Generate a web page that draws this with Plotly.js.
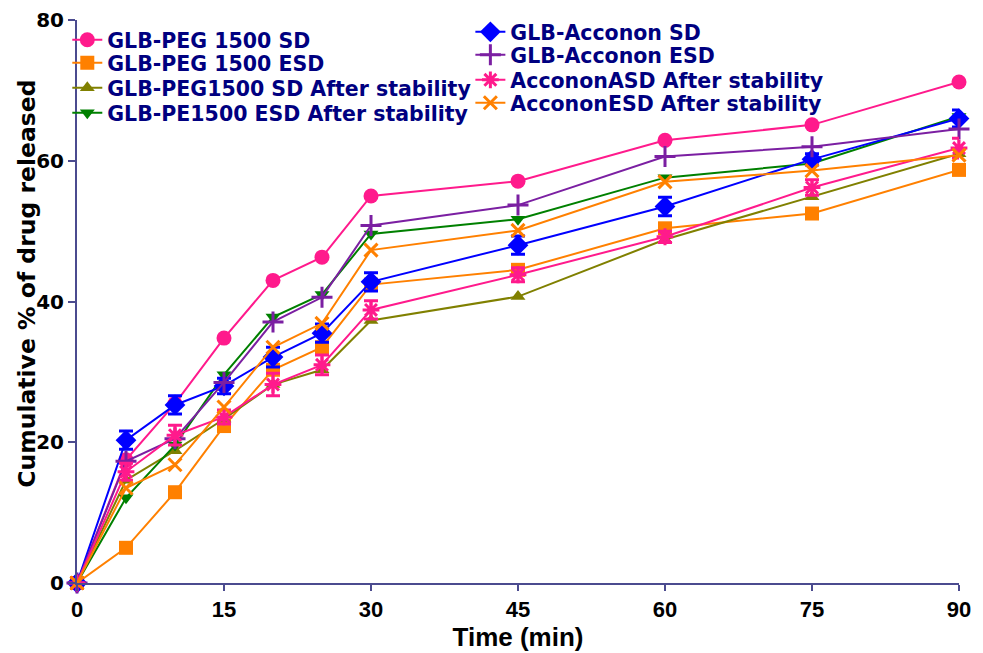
<!DOCTYPE html>
<html>
<head>
<meta charset="utf-8">
<script src="https://cdn.plot.ly/plotly-3.0.1.min.js"></script>
<style>html,body{margin:0;padding:0;background:#fff;}#chart{width:983px;height:653px;}</style>
</head>
<body>
<div id="chart"></div>
<script>
var time = [0, 5, 10, 15, 20, 25, 30, 45, 60, 75, 90];
var xTicks = [0, 15, 30, 45, 60, 75, 90];
var yTicks = [0, 20, 40, 60, 80];

var names = [
  "GLB-PEG 1500 SD",
  "GLB-PEG 1500 ESD",
  "GLB-PEG1500 SD After stability",
  "GLB-PE1500 ESD After stability",
  "GLB-Acconon SD",
  "GLB-Acconon ESD",
  "AccononASD After stability",
  "AccononESD After stability"
];

var pegSD        = [0, 17.5, 25.5, 34.8, 43.0, 46.3, 55.0, 57.1, 62.9, 65.1, 71.2];
var pegESD       = [0, 5.0, 12.9, 22.3, 30.3, 33.5, 42.4, 44.5, 50.4, 52.5, 58.7];
var pegSDStab    = [0, 14.6, 18.8, 23.3, 28.2, 30.3, 37.3, 40.7, 48.8, 54.9, 61.0];
var pegESDStab   = [0, 12.1, 19.6, 29.6, 37.8, 41.0, 49.6, 51.7, 57.6, 59.6, 66.3];
var accSD        = [0, 20.3, 25.3, 28.0, 32.1, 35.5, 42.8, 48.0, 53.5, 60.2, 66.0];
var accESD       = [0, 17.3, 20.5, 28.5, 37.1, 40.6, 50.8, 53.7, 60.6, 62.0, 64.5];
var accSDStab    = [0, 15.8, 21.0, 23.6, 28.2, 31.0, 38.8, 43.8, 49.2, 56.2, 61.8];
var accESDStab   = [0, 13.5, 16.8, 25.0, 33.5, 36.9, 47.3, 50.1, 57.0, 58.6, 60.8];

var accSDErr     = [0, 1.3, 1.3, 1.1, 1.4, 1.3, 1.3, 1.3, 1.3, 0.8, 1.2];
var accSDStabErr = [0, 1.2, 1.4, 1.0, 1.6, 1.4, 1.3, 1.0, 0.8, 1.1, 1.4];
var pegESDErr    = [0, 0, 0, 0, 0.6, 0.6, 0.5, 0.6, 0.6, 0, 0];

var series = [
  {y: pegSD,      color: "#FF1A8C", symbol: "circle",          size: 15},
  {y: pegESD,     color: "#FF8000", symbol: "square",          size: 14, err: pegESDErr},
  {y: pegSDStab,  color: "#808000", symbol: "triangle-up",     size: 13},
  {y: pegESDStab, color: "#008000", symbol: "triangle-down",   size: 13},
  {y: accSD,      color: "#0000FF", symbol: "diamond",         size: 16, err: accSDErr},
  {y: accESD,     color: "#7B1FA2", symbol: "cross-thin-open", size: 15},
  {y: accSDStab,  color: "#FF1A8C", symbol: "asterisk-open",   size: 14, err: accSDStabErr},
  {y: accESDStab, color: "#FF8000", symbol: "x-thin-open",     size: 13}
];

var legendIds = ["legend", "legend2", "legend3", "legend4", "legend5", "legend6", "legend7", "legend8"];

var traces = series.map(function (s, i) {
  var open = s.symbol.indexOf("open") >= 0;
  var t = {
    x: time, y: s.y, name: names[i], type: "scatter", mode: "lines+markers",
    legend: legendIds[i],
    cliponaxis: false,
    line: {color: s.color, width: 2},
    marker: {
      symbol: s.symbol, size: s.size, color: s.color,
      line: {color: s.color, width: open ? 3 : 0}
    }
  };
  if (s.err) {
    t.error_y = {type: "data", array: s.err, visible: true, color: s.color, thickness: 3, width: 7};
  }
  return t;
});

var legendFont = {family: "DejaVu Sans, sans-serif", size: 20.5, color: "#000080", weight: "bold"};

var layout = {
  width: 983, height: 653,
  margin: {l: 77, r: 24, t: 20, b: 70},
  paper_bgcolor: "#fff", plot_bgcolor: "#fff",
  showlegend: true,
  font: {family: "DejaVu Sans, sans-serif", color: "#000"},
  xaxis: {
    range: [0, 90], tickvals: xTicks, ticktext: xTicks.map(String),
    showgrid: false, zeroline: false, showline: true, linecolor: "#4B4B8F", linewidth: 2,
    ticks: "outside", ticklen: 6, tickwidth: 2, tickcolor: "#4B4B8F",
    tickfont: {family: "Liberation Sans Narrow, Arial Narrow, sans-serif", size: 22, color: "#000", weight: "bold"},
    title: {text: "Time (min)", standoff: 6,
      font: {family: "Liberation Sans Narrow, Arial Narrow, sans-serif", size: 26, color: "#000", weight: "bold"}}
  },
  yaxis: {
    range: [0, 80], tickvals: yTicks, ticktext: yTicks.map(String),
    showgrid: false, zeroline: false, showline: true, linecolor: "#4B4B8F", linewidth: 2,
    ticks: "outside", ticklen: 7, tickwidth: 2, tickcolor: "#4B4B8F",
    tickfont: {family: "DejaVu Sans, sans-serif", size: 20, color: "#000", weight: "bold"}
  },
  annotations: [{
    text: "Cumulative % of drug released", textangle: -90, showarrow: false,
    xref: "paper", yref: "paper", x: -0.057, y: 0.531, xanchor: "center", yanchor: "middle",
    font: {family: "DejaVu Sans, sans-serif", size: 23.5, color: "#000", weight: "bold"}
  }]
};

var legendX = [-0.011, -0.011, -0.011, -0.011, 0.446, 0.446, 0.446, 0.446];
var legendY = [0.9645, 0.9236, 0.8792, 0.8348, 0.9787, 0.9378, 0.8934, 0.8526];
legendIds.forEach(function (id, i) {
  layout[id] = {
    x: legendX[i], y: legendY[i], xanchor: "left", yanchor: "middle",
    bgcolor: "rgba(0,0,0,0)", font: legendFont, itemwidth: 30
  };
});

Plotly.newPlot("chart", traces, layout, {displayModeBar: false, staticPlot: true});
</script>
</body>
</html>
